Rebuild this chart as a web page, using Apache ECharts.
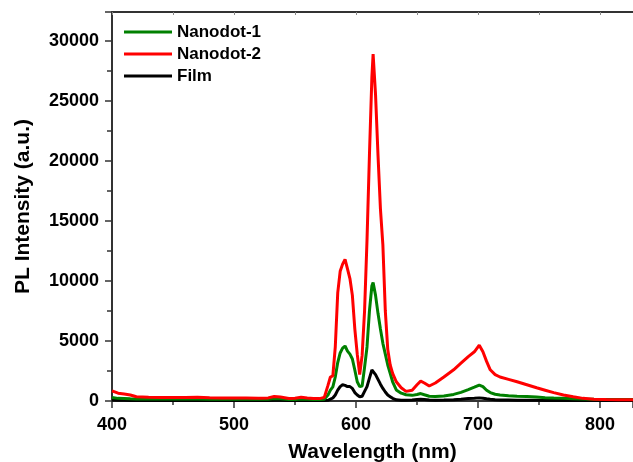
<!DOCTYPE html>
<html>
<head>
<meta charset="utf-8">
<script src="https://cdn.jsdelivr.net/npm/echarts@6/dist/echarts.min.js"></script>
<style>
  html, body { margin: 0; padding: 0; background: #fff; }
  #main { width: 633px; height: 462px; }
</style>
</head>
<body>
<div id="main"></div>
<script>
// wavelength grid (nm) shared by the three spectra
const wavelength = [
  400, 405, 410, 415, 420, 430, 440, 450, 460, 470,
  480, 490, 500, 510, 520, 528, 533, 538, 545, 550,
  555, 560, 565, 570, 574, 577, 579, 581, 583, 585,
  587, 589, 591, 593, 595, 597, 599, 601, 603, 605,
  607, 609, 611, 613, 614, 616, 618, 620, 622, 624,
  626, 628, 630, 633, 637, 641, 646, 650, 653, 656,
  660, 665, 672, 680, 686, 692, 697, 701, 704, 707,
  710, 714, 718, 725, 732, 740, 748, 755, 762, 770,
  778, 786, 795, 805, 815, 827
];

const nanodot1 = [
  300, 220, 200, 180, 170, 160, 160, 160, 160, 160,
  150, 150, 140, 140, 140, 150, 200, 180, 130, 130,
  170, 150, 130, 130, 150, 500, 900, 1170, 2000, 3200,
  4000, 4400, 4580, 4150, 3900, 3500, 2580, 1600, 1200, 1250,
  2800, 4500, 7500, 9600, 9860, 8800, 7300, 6000, 4800, 3900,
  3000, 2300, 1600, 920, 650, 520, 470, 540, 620, 520,
  400, 370, 420, 550, 720, 950, 1150, 1330, 1200, 900,
  700, 560, 500, 430, 400, 370, 330, 280, 250, 220,
  180, 160, 140, 130, 120, 120
];

const nanodot2 = [
  850, 650, 580, 500, 350, 320, 300, 290, 300, 320,
  280, 260, 250, 240, 230, 260, 380, 330, 200, 230,
  320, 250, 200, 200, 300, 1300, 2000, 2100, 4500, 9000,
  10800, 11400, 11800, 11000, 10200, 8800, 6000, 3900, 2200, 3800,
  7500, 13400, 20500, 27000, 28900, 25500, 20500, 16000, 13000, 7500,
  4300, 3000, 2300, 1600, 1100, 800, 900, 1350, 1650, 1500,
  1250, 1500, 2000, 2600, 3150, 3700, 4100, 4650, 4100, 3300,
  2600, 2200, 2000, 1800, 1600, 1350, 1100, 900, 700, 500,
  350, 220, 150, 120, 100, 100
];

const film = [
  80, 60, 55, 50, 50, 50, 50, 50, 50, 50,
  50, 50, 50, 50, 50, 50, 60, 60, 50, 50,
  60, 50, 50, 50, 50, 60, 150, 250, 500, 900,
  1200, 1350, 1300, 1200, 1200, 1050, 700, 500, 350, 400,
  800, 1200, 1900, 2580, 2500, 2200, 1800, 1400, 1050, 750,
  500, 360, 220, 100, 70, 60, 80, 130, 150, 120,
  80, 70, 80, 110, 150, 200, 230, 260, 230, 180,
  140, 110, 90, 80, 70, 60, 55, 50, 50, 50,
  50, 50, 50, 50, 50, 50
];

const xTicks = [400, 500, 600, 700, 800];
const yTicks = [0, 5000, 10000, 15000, 20000, 25000, 30000];

const pairs = (ys) => wavelength.map((x, i) => [x, ys[i]]);

const font = 'Liberation Sans, Arial, Helvetica, sans-serif';
const axisColor = '#333';

const chart = echarts.init(document.getElementById('main'));

const option = {
  animation: false,
  backgroundColor: '#fff',
  grid: { left: 112, top: 12, right: 0, bottom: 61, outerBoundsMode: 'none', containLabel: false },
  legend: {
    orient: 'vertical',
    left: 119,
    top: 18,
    icon: 'rect',
    itemWidth: 48,
    itemHeight: 3,
    itemGap: 4,
    data: ['Nanodot-1', 'Nanodot-2', 'Film'],
    textStyle: { fontFamily: font, fontWeight: 'bold', fontSize: 17, color: '#000', lineHeight: 18 }
  },
  xAxis: [
    {
      type: 'value',
      min: 400,
      max: 827,
      interval: 100,
      name: 'Wavelength (nm)',
      nameLocation: 'middle',
      nameGap: 41,
      nameTextStyle: { fontFamily: font, fontWeight: 'bold', fontSize: 21, color: '#000' },
      axisLine: { lineStyle: { color: axisColor, width: 2 } },
      axisTick: { inside: false, length: 7, lineStyle: { color: axisColor, width: 1.5 } },
      minorTick: { show: true, splitNumber: 2, length: 4, lineStyle: { color: axisColor, width: 1.5 } },
      splitLine: { show: false },
      axisLabel: {
        margin: 15,
        showMaxLabel: false,
        fontFamily: font, fontWeight: 'bold', fontSize: 18, color: '#000',
        formatter: (v) => (xTicks.includes(v) ? String(v) : '')
      }
    },
    {
      type: 'value',
      position: 'top',
      min: 400,
      max: 827,
      interval: 50,
      axisLine: { lineStyle: { color: axisColor, width: 2 } },
      axisTick: { inside: true, length: 3, lineStyle: { color: '#888', width: 1 } },
      axisLabel: { show: false },
      splitLine: { show: false }
    }
  ],
  yAxis: {
    type: 'value',
    min: 0,
    max: 32400,
    interval: 5000,
    name: 'PL Intensity (a.u.)',
    nameLocation: 'middle',
    nameGap: 78,
    nameTextStyle: { fontFamily: font, fontWeight: 'bold', fontSize: 21, color: '#000' },
    axisLine: { show: true, lineStyle: { color: axisColor, width: 2 } },
    axisTick: { show: true, inside: false, length: 7, lineStyle: { color: axisColor, width: 1.5 } },
    minorTick: { show: true, splitNumber: 2, length: 5, lineStyle: { color: axisColor, width: 1.5 } },
    splitLine: { show: false },
    axisLabel: {
      margin: 13,
      showMaxLabel: false,
      fontFamily: font, fontWeight: 'bold', fontSize: 18, color: '#000',
      formatter: (v) => (yTicks.includes(v) ? String(v) : '')
    }
  },
  series: [
    {
      name: 'Film',
      type: 'line',
      symbol: 'none',
      data: pairs(film),
      lineStyle: { color: '#000', width: 3 },
      itemStyle: { color: '#000' }
    },
    {
      name: 'Nanodot-1',
      type: 'line',
      symbol: 'none',
      data: pairs(nanodot1),
      lineStyle: { color: '#008000', width: 3 },
      itemStyle: { color: '#008000' }
    },
    {
      name: 'Nanodot-2',
      type: 'line',
      symbol: 'none',
      data: pairs(nanodot2),
      lineStyle: { color: '#ff0000', width: 3 },
      itemStyle: { color: '#ff0000' }
    }
  ]
};

chart.setOption(option);
</script>
</body>
</html>
